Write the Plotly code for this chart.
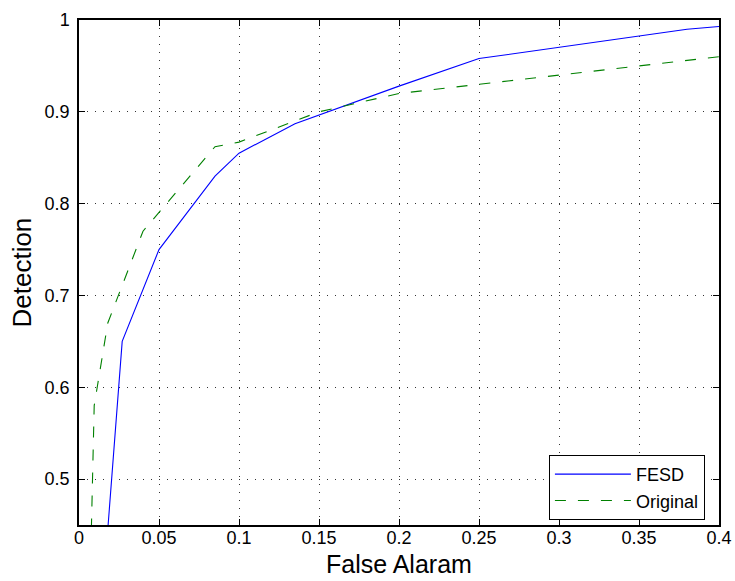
import plotly.graph_objects as go

# ROC-style curves: detection rate against false alarm rate
fesd_fa = [0.0182, 0.027, 0.05, 0.085, 0.1, 0.135, 0.2, 0.25, 0.38, 0.4]
fesd_det = [0.45, 0.65, 0.75, 0.83, 0.855, 0.887, 0.928, 0.958, 0.99, 0.993]

orig_fa = [0.0074, 0.0095, 0.018, 0.04, 0.085, 0.1, 0.15, 0.2, 0.25, 0.4]
orig_det = [0.42, 0.58, 0.67, 0.77, 0.862, 0.867, 0.9, 0.92, 0.93, 0.96]

x_ticks = [0, 0.05, 0.1, 0.15, 0.2, 0.25, 0.3, 0.35, 0.4]
x_labels = ["0", "0.05", "0.1", "0.15", "0.2", "0.25", "0.3", "0.35", "0.4"]
y_ticks = [0.5, 0.6, 0.7, 0.8, 0.9, 1.0]
y_labels = ["0.5", "0.6", "0.7", "0.8", "0.9", "1"]

FONT = "Arial, 'Liberation Sans', Helvetica, sans-serif"

fig = go.Figure()
fig.add_trace(go.Scatter(
    x=fesd_fa, y=fesd_det, mode="lines", name="FESD",
    line=dict(color="#0000ff", width=1.1),
))
fig.add_trace(go.Scatter(
    x=orig_fa, y=orig_det, mode="lines", name="Original",
    line=dict(color="#008000", width=1.1, dash="11px,12px"),
))

axis_common = dict(
    showline=True, linecolor="black", linewidth=1.5, mirror="allticks",
    ticks="inside", ticklen=6, tickcolor="black", tickwidth=1,
    showgrid=True, gridcolor="rgba(0,0,0,0.8)", griddash="1px,7px", gridwidth=1,
    zeroline=False, automargin=False,
    tickfont=dict(family=FONT, size=18, color="black"),
)

fig.update_xaxes(
    range=[0, 0.4], tickvals=x_ticks, ticktext=x_labels,
    ticklabelstandoff=-4,
    **axis_common,
)
fig.update_yaxes(
    range=[0.45, 1.0], tickvals=y_ticks, ticktext=y_labels,
    ticklabelstandoff=4,
    **axis_common,
)

# axis titles placed as paper-anchored annotations
title_font = dict(family=FONT, size=25, color="black")
fig.add_annotation(
    text="False Alaram", xref="paper", yref="paper", x=0.5, y=-0.078,
    xanchor="center", yanchor="middle", showarrow=False, font=title_font,
    borderpad=0,
)
fig.add_annotation(
    text="Detection", xref="paper", yref="paper", x=-0.0906, y=0.5,
    xanchor="center", yanchor="middle", textangle=-90, showarrow=False,
    font=dict(family=FONT, size=26, color="black"),
)

fig.update_layout(
    width=735, height=581,
    margin=dict(l=79, r=16, t=20, b=56),
    paper_bgcolor="white", plot_bgcolor="white",
    font=dict(family=FONT, color="black"),
    legend=dict(
        x=0.978, y=0.01, xanchor="right", yanchor="bottom",
        bgcolor="white", bordercolor="black", borderwidth=1,
        font=dict(family=FONT, size=18, color="black"),
        tracegroupgap=0, itemwidth=76,
    ),
)

fig.write_html("out.html")
